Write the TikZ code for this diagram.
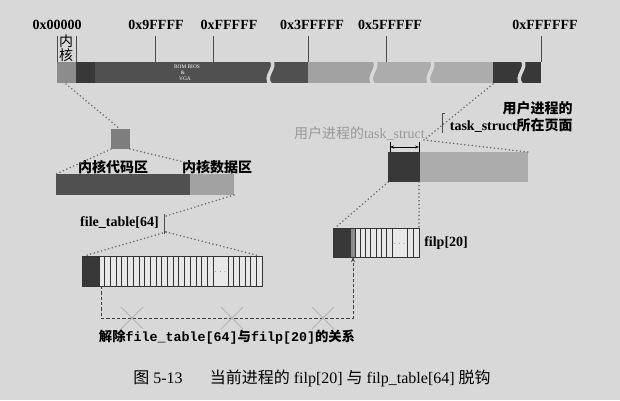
\documentclass[tikz,border=0pt]{standalone}
\usepackage{fontspec}
\setmainfont{Liberation Serif}
\setmonofont{Liberation Mono}
\newfontfamily\cjk{Noto Sans CJK SC}
\usetikzlibrary{arrows.meta}

\definecolor{bgc}{RGB}{216,216,216}
\definecolor{darkc}{RGB}{56,56,56}
\definecolor{midc}{RGB}{80,80,80}
\definecolor{kernc}{RGB}{140,140,140}
\definecolor{lightc}{RGB}{162,162,162}
\definecolor{hatchc}{RGB}{172,172,172}
\definecolor{dotc}{RGB}{105,105,105}

\tikzset{
  lbl/.style={font=\fontsize{10.5}{12}\selectfont\bfseries, inner sep=0pt},
  cn/.style={font=\fontsize{10.5}{12}\selectfont\cjk, inner sep=0pt},
  romtxt/.style={font=\fontsize{4}{4.5}\selectfont, text=white, inner sep=0pt},
  dotline/.style={dotc, line width=1.3pt, dash pattern=on 0pt off 2.8pt, line cap=round},
  gapline/.style={bgc, line width=2.6pt},
  tick/.style={black!70, line width=0.5pt},
  cell/.style={black!80, line width=0.6pt},
  cross/.style={black!30, line width=0.7pt},
}

\begin{document}
\begin{tikzpicture}[x=0.75pt,y=0.75pt,yscale=-1,xscale=1]
\useasboundingbox (0,0) rectangle (620,400);
\fill[bgc] (0,0) rectangle (620,400);

%Memory bar
\fill[kernc] (57,62) rectangle (76,83);
\fill[darkc] (76,62) rectangle (95,83);
\fill[midc] (95,62) rectangle (308,83);
\fill[lightc] (308,62) rectangle (373,83);
\fill[hatchc] (373,62) rectangle (493,83);
\fill[darkc] (493,62) rectangle (541,83);
%Wave breaks
\foreach \x in {270,373,430,521}
  \draw[gapline] (\x+1,60) .. controls (\x+8,68) and (\x-8,76) .. (\x+1,85);
\node[romtxt] (rom1) at (187,67) {ROM BIOS};
\node[romtxt] (rom2) at (183,73) {\&};
\node[romtxt] (rom3) at (185,79) {VGA};

%Address ticks and labels
\coordinate (kbl) at (66,84);
\foreach \x/\name/\txt/\lx in {57/a0/0x00000/57, 155/a1/0x9FFFF/156, 213/a2/0xFFFFF/229, 308/a3/0x3FFFFF/312, 386/a4/0x5FFFFF/390, 541/a5/0xFFFFFF/545}{
  \node[lbl] (\name) at (\lx,25) {\txt};
  \draw[tick] (\x,36) -- (\x,62);
}
\draw[tick] (76,36) -- (76,62);
\node[cn] (kn1) at (66,41) {内};
\node[cn] (kn2) at (66,55) {核};

%Kernel square
\fill[kernc!90!black] (111,129) rectangle (130,149);
\coordinate (sqt) at (120,129);
\coordinate (sqbl) at (111,149);
\coordinate (sqbr) at (130,149);

%Kernel code / data bar
\fill[midc] (56,174) rectangle (190,195);
\fill[lightc] (190,174) rectangle (234,195);
\coordinate (kbtl) at (56,174);
\coordinate (kbtr) at (234,174);
\coordinate (kbbr) at (234,195);
\node[cn, font=\fontsize{10.5}{12}\selectfont\cjk\bfseries] (kcode) at (113,167) {内核代码区};
\node[cn, font=\fontsize{10.5}{12}\selectfont\cjk\bfseries] (kdata) at (217,167) {内核数据区};

%file_table[64]
\node[lbl, anchor=east] (ftl) at (159,223) {file\_table[64]};
\draw[tick] (164,214) -- (164,234);
\coordinate (ftbt) at (166,216);
\coordinate (ftbb) at (166,232);
\fill[darkc] (82,256) rectangle (99,286);
\fill[bgc!60!white] (99,256) rectangle (262,286);
\foreach \i in {0,...,20}
  \draw[cell] (99+\i*5.7,256) -- (99+\i*5.7,286);
\foreach \i in {0,...,6}
  \draw[cell] (228+\i*5.67,256) -- (228+\i*5.67,286);
\draw[cell] (82,256) rectangle (262,286);
\node[font=\tiny, inner sep=0pt] (ftdots) at (220.5,272) {$\cdots$};
\coordinate (fttl) at (84,256);
\coordinate (fttr) at (260,256);
\coordinate (ftout) at (101,286);

%filp[20]
\fill[darkc] (333,228) rectangle (351,257);
\fill[kernc] (351,228) rectangle (355,257);
\fill[bgc!60!white] (355,228) rectangle (419,257);
\foreach \i in {0,...,7}
  \draw[cell] (355+\i*5.29,228) -- (355+\i*5.29,257);
\foreach \i in {0,...,2}
  \draw[cell] (407+\i*6,228) -- (407+\i*6,257);
\draw[cell] (333,228) rectangle (419,257);
\node[font=\tiny, inner sep=0pt] (fpdots) at (399.5,244) {$\cdots$};
\node[lbl, anchor=west] (fpl) at (424,243) {filp[20]};
\coordinate (fptl) at (335,228);
\coordinate (fptr) at (419,228);
\coordinate (fpin) at (353,257);

%task_struct page
\fill[darkc] (388,152) rectangle (420,182);
\fill[hatchc] (420,152) rectangle (528,182);
\coordinate (pgtr) at (528,152);
\coordinate (pgbl) at (388,182);
\coordinate (pgbr) at (419,182);
\coordinate (tsp) at (424,140);
\coordinate (segbl) at (493,84);
\draw[tick, black] (390,142) -- (390,152) (419,142) -- (419,152);
\draw[black, line width=0.5pt, {Stealth[length=3pt]}-{Stealth[length=3pt]}] (390,147) -- (419,147);
\node[cn, text=black!40, anchor=east] (tsk) at (425,133) {用户进程的{\rmfamily task\_struct}};
\draw[tick] (442,113) -- (442,133) (442,113) -- (445,113);
\node[cn, font=\fontsize{10.5}{12}\selectfont\cjk\bfseries, anchor=east] (pg1) at (573,108) {用户进程的};
\node[lbl, anchor=east] (pg2) at (573,125) {task\_struct{\cjk\bfseries 所在页面}};

%Dotted zoom lines
\draw[dotline] (kbl) -- (sqt);
\draw[dotline] (sqbl) -- (kbtl);
\draw[dotline] (sqbr) -- (kbtr);
\draw[dotline] (kbbr) -- (ftbt);
\draw[dotline] (ftbb) -- (fttl);
\draw[dotline] (ftbb) -- (fttr);
\draw[dotline] (segbl) -- (tsp);
\draw[dotline] (tsp) -- (pgtr);
\draw[dotline] (pgbl) -- (fptl);
\draw[dotline] (pgbr) -- (fptr);

%Unlinked connection
\draw[black!75, line width=0.6pt, dash pattern=on 2.5pt off 1.5pt, -{Stealth[length=4pt,width=3pt]}] (ftout) -- ++(0,32) -| (fpin);
\foreach \cx in {132,232,323}
  \draw[cross] (\cx-11,307) -- (\cx+11,329) (\cx-11,329) -- (\cx+11,307);
\node[font=\fontsize{10}{12}\selectfont\bfseries, inner sep=0pt] (unlink) at (227,337) {{\cjk 解除}\texttt{file\_table[64]}{\cjk 与}\texttt{filp[20]}{\cjk 的关系}};

% Caption
\node[font=\fontsize{12}{14}\selectfont, inner sep=0pt] (cap) at (312,378) {{\cjk 图} 5-13\hspace{1.7em}{\cjk 当前进程的} filp[20] {\cjk 与} filp\_table[64] {\cjk 脱钩}};

\end{tikzpicture}
\end{document}
